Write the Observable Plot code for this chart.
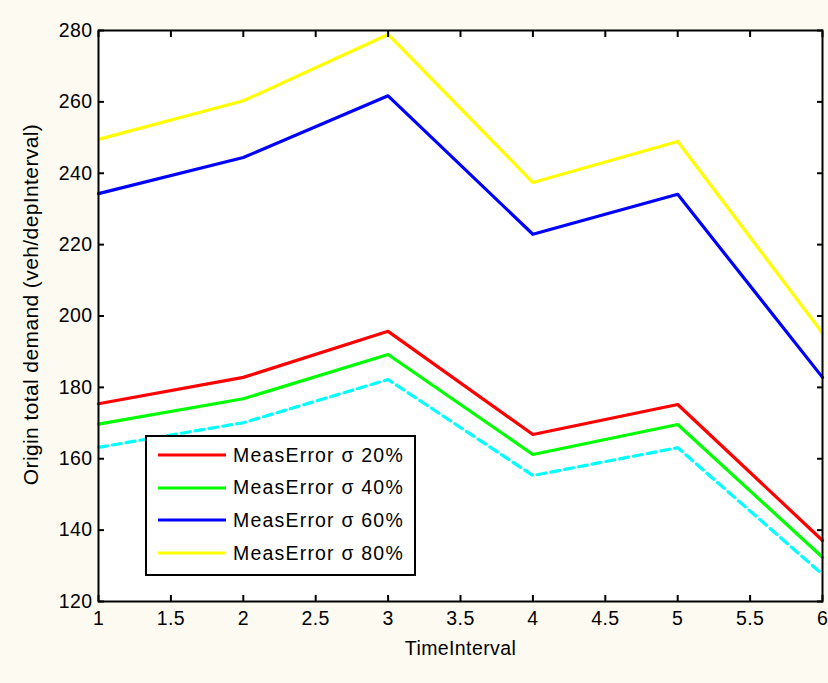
<!DOCTYPE html>
<html>
<head>
<meta charset="utf-8">
<script src="https://cdn.jsdelivr.net/npm/d3@7"></script>
<script src="https://cdn.jsdelivr.net/npm/@observablehq/plot@0.6"></script>
<style>
  html, body { margin: 0; padding: 0; background: #fdfbf1; }
  #wrap { position: relative; width: 828px; height: 683px; }
  #legend {
    position: absolute; left: 145px; top: 435px; width: 267px; height: 137px;
    background: #fff; border: 2px solid #000;
    font-family: "Liberation Sans", Arial, sans-serif; font-size: 19.5px; letter-spacing: 1.2px;
  }
  .item { position: absolute; left: 11px; height: 22px; display: flex; align-items: center; }
  .item svg { display: block; margin-right: 7px; }
</style>
</head>
<body>
<div id="wrap"></div>
<script>
const intervals = [1, 2, 3, 4, 5, 6];
const sigma20 = [175.4, 182.8, 195.7, 166.8, 175.2, 137.1];
const sigma40 = [169.7, 176.8, 189.2, 161.2, 169.6, 132.4];
const sigma60 = [234.3, 244.4, 261.7, 222.9, 234.1, 182.8];
const sigma80 = [249.5, 260.3, 278.9, 237.4, 248.9, 195.2];
const reference = [163.2, 170.1, 182.2, 155.3, 163.1, 127.6];
const seriesNames = ["MeasError σ 20%", "MeasError σ 40%", "MeasError σ 60%", "MeasError σ 80%"];
const seriesColors = ["#ff0000", "#00ff00", "#0000ff", "#ffff00"];
const xTicks = [1, 1.5, 2, 2.5, 3, 3.5, 4, 4.5, 5, 5.5, 6];
const yTicks = [120, 140, 160, 180, 200, 220, 240, 260, 280];
const xLabel = "TimeInterval";
const yLabel = "Origin total demand (veh/depInterval)";

const allSeries = [sigma20, sigma40, sigma60, sigma80];
const rows = (vals) => intervals.map((t, i) => ({t, v: vals[i]}));

const fs = 19.5;
const blank = () => "";
const plain = (d) => String(d);

const chart = Plot.plot({
  width: 828, height: 683,
  marginLeft: 98, marginRight: 6, marginTop: 30, marginBottom: 82,
  style: {background: "transparent", fontFamily: "'Liberation Sans', Arial, sans-serif", fontSize: fs + "px", letterSpacing: "0.4px", color: "#000"},
  x: {domain: [1, 6]},
  y: {domain: [120, 280]},
  marks: [
    Plot.frame({fill: "white", stroke: "none"}),
    ...allSeries.map((s, i) => Plot.line(rows(s), {x: "t", y: "v", stroke: seriesColors[i], strokeWidth: 3.2})),
    Plot.line(rows(reference), {x: "t", y: "v", stroke: "#00ffff", strokeWidth: 3.2, strokeDasharray: "9,5"}),
    Plot.axisX(xTicks, {anchor: "bottom", tickSize: 0, tickPadding: 10, tickFormat: plain, label: xLabel, labelArrow: "none", labelAnchor: "center", labelOffset: 53, fontSize: fs}),
    Plot.axisX(xTicks, {anchor: "bottom", tickSize: -6, tickFormat: blank, label: null, strokeWidth: 2}),
    Plot.axisX(xTicks, {anchor: "top", tickSize: -6, tickFormat: blank, label: null, strokeWidth: 2}),
    Plot.axisY(yTicks, {anchor: "left", tickSize: 0, tickPadding: 6, tickFormat: plain, label: null, fontSize: fs}),
    Plot.axisY(yTicks, {anchor: "left", tickSize: -6, tickFormat: blank, label: null, strokeWidth: 2}),
    Plot.axisY(yTicks, {anchor: "right", tickSize: -6, tickFormat: blank, label: null, strokeWidth: 2}),
    Plot.text([yLabel], {text: d => d, frameAnchor: "left", textAnchor: "middle", lineAnchor: "middle", rotate: -90, dx: -67, dy: -11.5, fontSize: 21, style: "letter-spacing:0.3px"}),
    Plot.frame({stroke: "#000", strokeWidth: 2})
  ]
});

const wrap = document.getElementById("wrap");
wrap.appendChild(chart);

const legend = document.createElement("div");
legend.id = "legend";
seriesNames.forEach((name, i) => {
  const item = document.createElement("div");
  item.className = "item";
  item.style.top = (7 + i * 32.7) + "px";
  item.innerHTML = `<svg width="68" height="6"><line x1="0" y1="3" x2="68" y2="3" stroke="${seriesColors[i]}" stroke-width="3.2"/></svg><span>${name}</span>`;
  legend.appendChild(item);
});
wrap.appendChild(legend);
</script>
</body>
</html>
